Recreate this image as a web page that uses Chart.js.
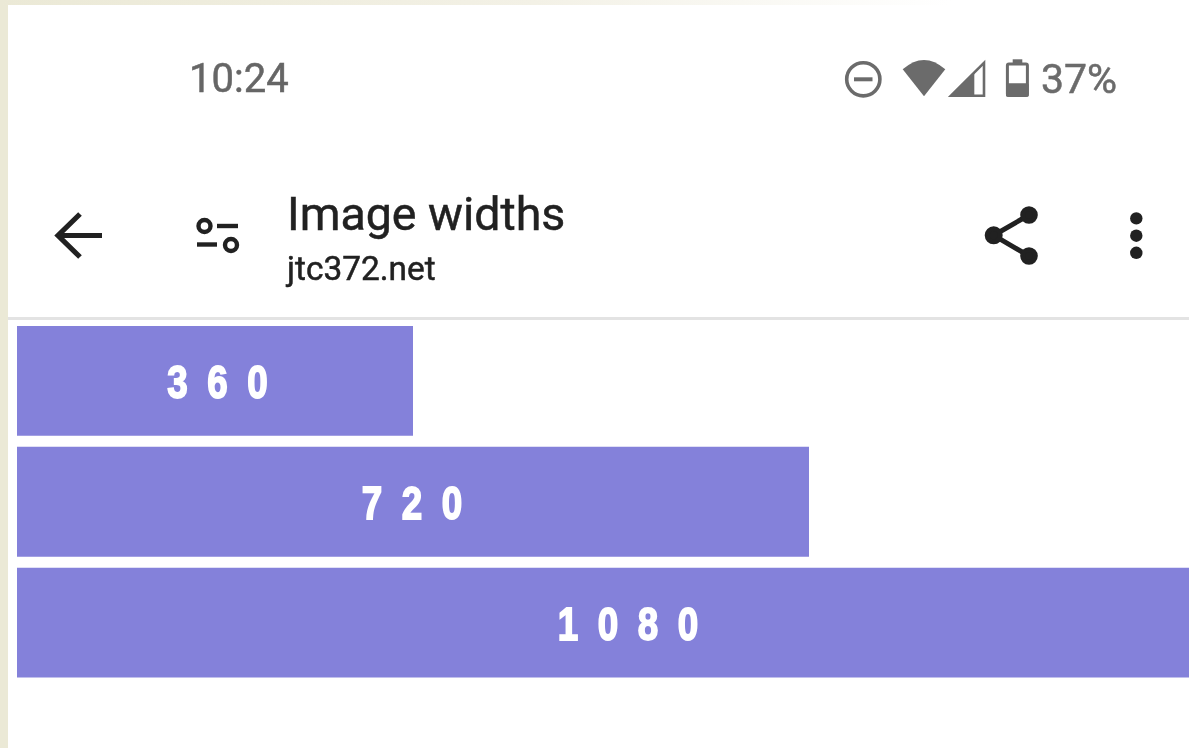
<!DOCTYPE html>
<html><head><meta charset="utf-8">
<script src="https://cdn.jsdelivr.net/npm/chart.js@4"></script>
<style>
html,body{margin:0;padding:0;width:1189px;height:748px;overflow:hidden;background:#fff}
#wrap{position:relative;width:1189px;height:748px;overflow:hidden}
#chart{position:absolute;left:0;top:0}
.strip-l{position:absolute;left:0;top:0;width:7.5px;height:748px;background:#ebe9d6}
.strip-t{position:absolute;left:0;top:0;width:1189px;height:4.5px;background:linear-gradient(90deg,#ebe9d6 0%,#f3f1e6 45%,#fff 80%)}
.rule{position:absolute;left:7.5px;top:317px;width:1182px;height:3px;background:#e3e3e3}
.t{position:absolute;font-family:Roboto,sans-serif;white-space:nowrap;line-height:1;-webkit-text-stroke:0.5px currentColor}
svg{position:absolute;left:0;top:0}
</style></head><body>
<div id="wrap">
<canvas id="chart" width="1189" height="748"></canvas>
<div class="strip-l"></div><div class="strip-t"></div><div class="rule"></div>
<svg width="1189" height="748" viewBox="0 0 1189 748">
  <g fill="none" stroke="#6b6b6b">
    <circle cx="863.3" cy="79.3" r="16.6" stroke-width="3.6"/>
    <line x1="854" y1="79.3" x2="872.5" y2="79.3" stroke-width="4"/>
    <path d="M951 95.7 L984 62.8 L984 95.7 Z" stroke-width="2.6"/>
    <rect x="1007.4" y="64" width="20" height="31.6" rx="1.5" stroke-width="3"/>
  </g>
  <g fill="#6b6b6b">
    <path d="M902.7 69.3 Q924 50.5 945.3 69.3 L924 96.3 Z"/>
    <path d="M949.3 96.7 L974.3 71.7 L974.3 96.7 Z"/>
    <rect x="1006" y="83.3" width="22.7" height="13.4" rx="1.5"/>
    <rect x="1012.7" y="59.3" width="9.6" height="5"/>
  </g>
  <g fill="none" stroke="#212121" stroke-width="5.2">
    <path d="M102 235.5 H60"/>
    <path d="M80 214 L58 235.5 L80 257" />
  </g>
  <g fill="none" stroke="#212121" stroke-width="4.4">
    <circle cx="204.5" cy="226" r="6"/>
    <circle cx="231" cy="245" r="6"/>
    <line x1="217" y1="226" x2="238" y2="226"/>
    <line x1="197" y1="244.5" x2="217" y2="244.5"/>
  </g>
  <g stroke="#212121" stroke-width="5" fill="#212121">
    <path d="M1029 215 L993.7 235.3 L1029 256" fill="none"/>
    <circle cx="1029" cy="215" r="6.3"/>
    <circle cx="993.7" cy="235.3" r="6.5"/>
    <circle cx="1029" cy="256" r="6.3"/>
  </g>
  <g fill="#212121">
    <circle cx="1136.3" cy="218.4" r="6.2"/>
    <circle cx="1136.3" cy="235.7" r="6.2"/>
    <circle cx="1136.3" cy="252.8" r="6.2"/>
  </g>
</svg>
<div class="t" style="left:189px;top:59px;font-size:40px;color:#666">10:24</div>
<div class="t" style="left:1041px;top:59px;font-size:41px;color:#6b6b6b">37%</div>
<div class="t" style="left:287px;top:191px;font-size:46.5px;color:#212121">Image widths</div>
<div class="t" style="left:287px;top:252px;font-size:33.4px;color:#212121">jtc372.net</div>
</div>
<script>
const categories = ["360", "720", "1080"];
const widths = [360, 720, 1080];
const axisMax = 1065.45;
const barColor = "#8481da";
const labelNudge = [2.5, -1, 17];

const spacedLabels = {
  id: "spacedLabels",
  afterDatasetsDraw(chart) {
    const ctx = chart.ctx, meta = chart.getDatasetMeta(0), x = chart.scales.x;
    ctx.save();
    ctx.fillStyle = "#fff"; ctx.strokeStyle = "#fff"; ctx.lineWidth = 1.8;
    ctx.textAlign = "left"; ctx.textBaseline = "alphabetic";
    ctx.font = "bold 46px 'Liberation Sans'";
    const squeeze = 0.8, pitch = 40;
    meta.data.forEach((bar, i) => {
      const chars = categories[i].split("");
      const mid = x.getPixelForValue(widths[i] / 2) + labelNudge[i];
      const y = bar.y + 17.5;
      chars.forEach((c, k) => {
        const cx = mid + (k - (chars.length - 1) / 2) * pitch;
        const w = ctx.measureText(c).width * squeeze;
        ctx.save();
        ctx.translate(cx - w / 2, y);
        ctx.scale(squeeze, 1);
        ctx.fillText(c, 0, 0);
        ctx.strokeText(c, 0, 0);
        ctx.restore();
      });
    });
    ctx.restore();
  }
};

new Chart(document.getElementById("chart"), {
  type: "bar",
  data: { labels: categories, datasets: [{ data: widths, backgroundColor: barColor, borderWidth: 0, barPercentage: 1, categoryPercentage: 0.909 }] },
  options: {
    indexAxis: "y", responsive: false, animation: false,
    layout: { padding: { left: 17, top: 320.5, right: 0, bottom: 65 } },
    plugins: { legend: { display: false }, tooltip: { enabled: false } },
    scales: {
      x: { display: false, min: 0, max: axisMax },
      y: { display: false }
    }
  },
  plugins: [spacedLabels]
});
</script>
</body></html>
